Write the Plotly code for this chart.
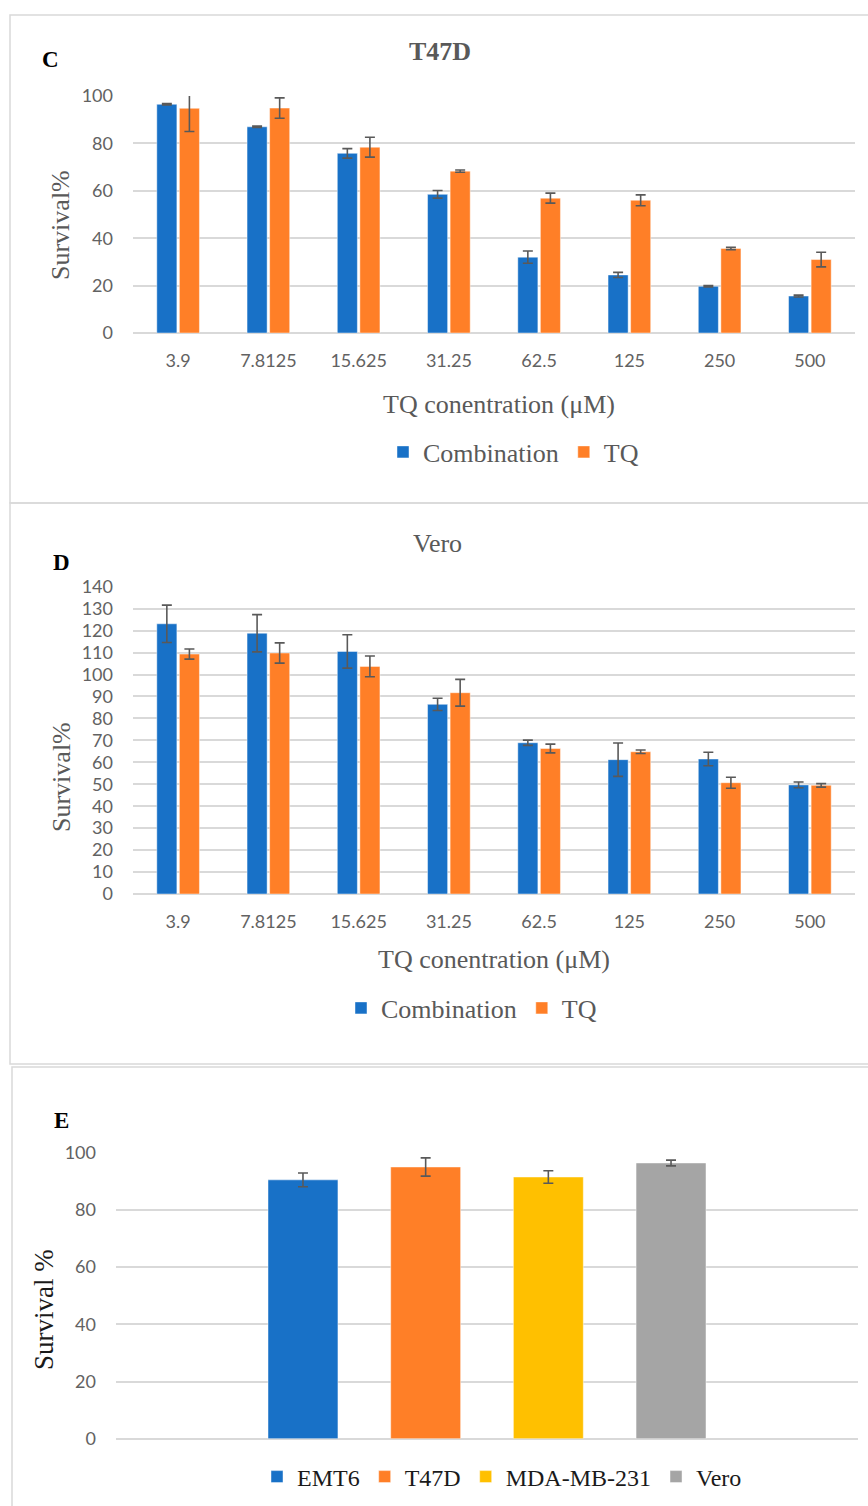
import plotly.graph_objects as go

W, H = 868, 1506

# ---- data -------------------------------------------------------------
conc_labels = ["3.9", "7.8125", "15.625", "31.25", "62.5", "125", "250", "500"]

t47d_combination = [96.5, 87.0, 75.8, 58.5, 32.0, 24.5, 19.7, 15.6]
t47d_combination_err = [0.3, 0.3, 2.0, 1.6, 2.6, 1.1, 0.3, 0.4]
t47d_tq = [94.8, 94.9, 78.4, 68.3, 56.9, 56.0, 35.7, 31.0]
t47d_tq_err = [9.8, 4.3, 4.2, 0.5, 2.1, 2.3, 0.5, 3.1]

vero_combination = [123.1, 118.8, 110.5, 86.4, 68.9, 61.2, 61.5, 49.7]
vero_combination_err = [8.5, 8.5, 7.6, 2.8, 1.2, 7.6, 3.1, 1.3]
vero_tq = [109.3, 109.8, 103.7, 91.7, 66.3, 64.8, 50.7, 49.5]
vero_tq_err = [2.3, 4.6, 4.7, 6.1, 2.0, 0.8, 2.5, 0.8]

cell_lines = ["EMT6", "T47D", "MDA-MB-231", "Vero"]
cell_survival = [90.5, 95.0, 91.5, 96.4]
cell_survival_err = [2.4, 3.2, 2.2, 1.0]

# ---- style ------------------------------------------------------------
BLUE = "#1871C7"
ORANGE = "#FF7F27"
YELLOW = "#FFC000"
GREY = "#A5A5A5"
cell_colors = [BLUE, ORANGE, YELLOW, GREY]

SERIF = "Liberation Serif"
SANS = "Lato"
TXT = "#595959"
TICK = "#626262"
GRID = "#D9D9D9"
ERR = "#595959"


def px(x):
    return x / W


def py(y):
    return 1 - y / H


def err(values):
    return dict(type="data", array=values, color=ERR, thickness=1.6, width=5)


edge = dict(width=1, color="rgba(255,255,255,0.45)")

fig = go.Figure()

# Panel C: T47D
fig.add_trace(go.Bar(x=conc_labels, y=t47d_combination, name="Combination",
                     marker=dict(color=BLUE, line=edge), error_y=err(t47d_combination_err),
                     xaxis="x", yaxis="y", legend="legend"))
fig.add_trace(go.Bar(x=conc_labels, y=t47d_tq, name="TQ",
                     marker=dict(color=ORANGE, line=edge), error_y=err(t47d_tq_err),
                     xaxis="x", yaxis="y", legend="legend"))

# Panel D: Vero
fig.add_trace(go.Bar(x=conc_labels, y=vero_combination, name="Combination",
                     marker=dict(color=BLUE, line=edge), error_y=err(vero_combination_err),
                     xaxis="x2", yaxis="y2", legend="legend2"))
fig.add_trace(go.Bar(x=conc_labels, y=vero_tq, name="TQ",
                     marker=dict(color=ORANGE, line=edge), error_y=err(vero_tq_err),
                     xaxis="x2", yaxis="y2", legend="legend2"))

# Panel E: single dose across cell lines
for name, val, e, col in zip(cell_lines, cell_survival, cell_survival_err, cell_colors):
    fig.add_trace(go.Bar(x=[name], y=[val], name=name, width=0.57, offset=-0.285,
                         marker=dict(color=col, line=edge), error_y=err([e]),
                         xaxis="x3", yaxis="y3", legend="legend3"))

tickfont = dict(family=SANS, size=18, color=TICK)


def xaxis(x0, x1, **kw):
    d = dict(domain=[px(x0), px(x1)], type="category",
             showgrid=False, zeroline=False, showline=False, ticks="",
             tickfont=tickfont, ticklabelstandoff=15)
    d.update(kw)
    return d


def yaxis(y_top, y_bot, top, dtick, anchor):
    return dict(domain=[py(y_bot), py(y_top)], anchor=anchor, range=[0, top], dtick=dtick,
                showgrid=True, gridcolor=GRID, gridwidth=1.5,
                zeroline=True, zerolinecolor=GRID, zerolinewidth=1.5,
                showline=False, ticks="", tickfont=tickfont, ticklabelstandoff=19)


def legend(x, y, color, size=26):
    return dict(orientation="h", x=px(x), y=py(y), xanchor="left", yanchor="middle",
                font=dict(family=SERIF, size=size, color=color),
                bgcolor="rgba(0,0,0,0)", traceorder="normal")


def text(t, x, y, size=26, color=TXT, bold=False, angle=0):
    return dict(text=f"<b>{t}</b>" if bold else t, x=px(x), y=py(y), xref="paper", yref="paper",
                xanchor="center", yanchor="middle", showarrow=False, textangle=angle,
                font=dict(family=SERIF, size=size, color=color))


def box(x0, y0, x1, y1):
    return dict(type="rect", xref="paper", yref="paper", x0=px(x0), y0=py(y0), x1=px(x1), y1=py(y1),
                line=dict(color=GRID, width=1.5), fillcolor="rgba(0,0,0,0)", layer="below")


fig.update_layout(
    width=W, height=H, autosize=False,
    margin=dict(l=0, r=0, t=0, b=0, autoexpand=False),
    paper_bgcolor="white", plot_bgcolor="white",
    barmode="group", bargap=0.5, bargroupgap=0.11,
    xaxis=xaxis(133, 855, anchor="y"),
    yaxis=yaxis(96, 333, 100, 20, "x"),
    xaxis2=xaxis(133, 855, anchor="y2"),
    yaxis2=yaxis(586.7, 894, 140, 10, "x2"),
    xaxis3=xaxis(116, 858, anchor="y3", showticklabels=False, range=[-1.524, 4.524]),
    yaxis3=yaxis(1152.7, 1438.7, 100, 20, "x3"),
    legend=legend(383, 452, TXT),
    legend2=legend(341, 1008, TXT),
    legend3=legend(257, 1477, "#1a1a1a", size=24),
    annotations=[
        text("C", 50, 60, size=23, color="#000", bold=True),
        text("T47D", 440, 52, bold=True),
        text("Survival%", 61, 225, angle=-90),
        text("TQ conentration (μM)", 499, 404),
        text("D", 61, 562, size=23, color="#000", bold=True),
        text("Vero", 437, 543),
        text("Survival%", 61, 777, angle=-90),
        text("TQ conentration (μM)", 494, 959),
        text("E", 61, 1120, size=23, color="#000", bold=True),
        text("Survival %", 44, 1310, size=27, color="#1a1a1a", angle=-90),
    ],
    shapes=[
        box(10, 15, 872, 503),
        box(10, 503, 872, 1064),
        box(12, 1067, 872, 1512),
    ],
)

fig.write_html("out.html")
